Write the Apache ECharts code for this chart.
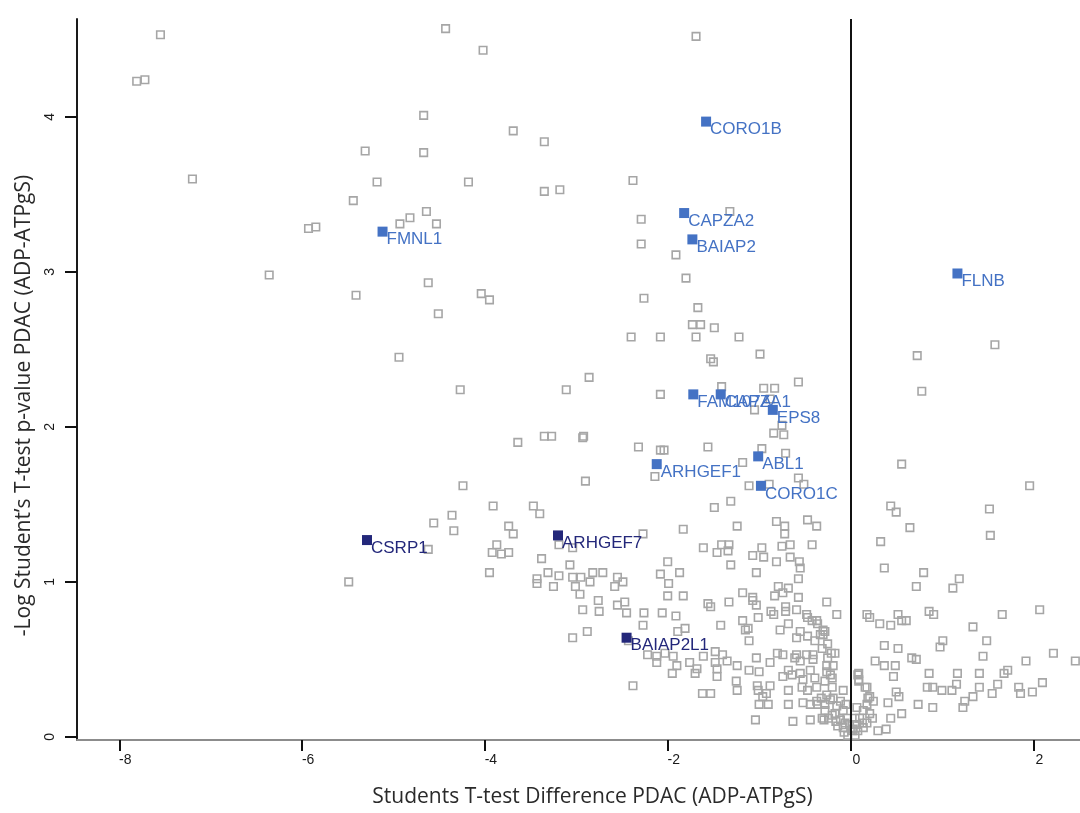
<!DOCTYPE html>
<html>
<head>
<meta charset="utf-8">
<script src="https://cdn.jsdelivr.net/npm/echarts@6/dist/echarts.min.js"></script>
<style>
html,body{margin:0;padding:0;background:#fff;}
#chart{width:1080px;height:813px;}
</style>
</head>
<body>
<div id="chart"></div>
<script>
// ---- Axis settings ----
const xTitle = "Students T-test Difference PDAC (ADP-ATPgS)";
const yTitle = "-Log Student\u2019s T-test p-value PDAC (ADP-ATPgS)";
const xTicks = [-8, -6, -4, -2, 0, 2];
const yTicks = [0, 1, 2, 3, 4];
const X_MIN = -8.463, X_MAX = 2.511;
const Y_MIN = -0.02, Y_MAX = 4.632;

// ---- Highlighted proteins ----
const blueNames = ['CORO1B','CAPZA2','BAIAP2','FMNL1','FLNB','FAM107A','CAPZA1','EPS8','ARHGEF1','ABL1','CORO1C'];
const blueX = [-1.58,-1.82,-1.73,-5.12,1.17,-1.72,-1.42,-0.85,-2.12,-1.01,-0.98];
const blueY = [3.97,3.38,3.21,3.26,2.99,2.21,2.21,2.11,1.76,1.81,1.62];
const navyNames = ['CSRP1','ARHGEF7','BAIAP2L1'];
const navyX = [-5.29,-3.20,-2.45];
const navyY = [1.27,1.30,0.64];

// ---- Other proteins (x = difference, y = -log p) ----
const grayTop = [
[-7.55,4.53],[-7.81,4.23],[-7.72,4.24],[-7.20,3.60],[-4.43,4.57],[-4.02,4.43],[-1.69,4.52],[-4.67,4.01],
[-5.31,3.78],[-4.67,3.77],[-3.69,3.91],[-3.35,3.84],[-5.18,3.58],[-4.18,3.58],[-3.35,3.52],[-3.18,3.53],
[-5.44,3.46],[-2.38,3.59],[-2.29,3.34],[-2.29,3.18],[-1.91,3.11],[-1.80,2.96],[-1.32,3.39],[-5.93,3.28],
[-5.85,3.29],[-4.93,3.31],[-4.82,3.35],[-4.64,3.39],[-4.53,3.31],[-6.36,2.98],[-5.41,2.85],[-4.62,2.93],
[-4.04,2.86],[-3.95,2.82],[-4.51,2.73],[-4.94,2.45],[-4.27,2.24],[-2.26,2.83],[-1.67,2.77],[-1.73,2.66],
[-1.64,2.66],[-1.49,2.64],[-2.40,2.58],[-2.08,2.58],[-1.69,2.58],[-1.22,2.58],[-1.53,2.44],[-1.50,2.42],
[-0.99,2.47],[-0.57,2.29],[-2.86,2.32],[-3.11,2.24],[-2.08,2.21],[-1.41,2.26],[-0.95,2.25],[-0.83,2.25],
[-1.05,2.11],[-0.88,2.18],[-0.75,2.01],[-0.84,1.96],[-0.73,1.95]
];
const grayMid = [
[-2.93,1.93],[-2.32,1.87],[-2.08,1.85],[-2.04,1.85],[-1.56,1.87],[-0.97,1.86],[-0.71,1.83],[-1.18,1.77],
[-1.11,1.62],[-0.89,1.63],[-0.57,1.67],[-0.51,1.63],[-1.49,1.48],[-1.31,1.52],[-0.81,1.39],[-0.72,1.36],
[-0.72,1.31],[-0.47,1.40],[-0.37,1.36],[-1.24,1.36],[-1.61,1.22],[-1.41,1.24],[-1.46,1.19],[-1.33,1.24],
[-1.34,1.20],[-0.97,1.22],[-1.07,1.17],[-0.95,1.16],[-0.75,1.23],[-0.66,1.24],[-0.42,1.24],[-1.31,1.11],
[-0.81,1.13],[-0.66,1.16],[-0.55,1.09],[-0.56,1.13],[-1.03,1.06],[-0.57,1.02],[-3.64,1.90],[-3.35,1.94],
[-3.27,1.94],[-2.92,1.94],[-2.14,1.68],[-2.90,1.65],[-4.24,1.62],[-3.91,1.49],[-3.47,1.49],[-3.40,1.44],
[-4.36,1.43],[-4.56,1.38],[-4.34,1.33],[-3.74,1.36],[-3.69,1.31],[-4.62,1.21],[-3.87,1.24],[-3.92,1.19],
[-3.82,1.18],[-3.74,1.19],[-3.95,1.06],[-5.49,1.00],[-3.38,1.15],[-3.19,1.24],[-3.04,1.22],[-3.07,1.11],
[-2.27,1.31],[-1.83,1.34],[-3.31,1.06],[-3.43,1.02],[-3.43,0.99],[-3.25,0.97],[-3.19,1.04],[-3.04,1.03],
[-2.95,1.03],[-3.01,0.97],[-2.85,1.00],[-2.82,1.06],[-2.71,1.06],[-2.55,1.03],[-2.58,0.97],[-2.49,1.00],
[-2.08,1.05],[-2.00,1.13],[-1.87,1.06],[-1.99,0.99]
];
const grayLow = [
[-2.96,0.92],[-2.76,0.88],[-2.47,0.87],[-2.55,0.85],[-2.00,0.91],[-1.83,0.91],[-1.56,0.86],[-2.93,0.82],
[-2.75,0.81],[-2.45,0.80],[-2.26,0.80],[-2.06,0.80],[-1.91,0.78],[-3.04,0.64],[-2.88,0.68],[-2.27,0.72],
[-1.89,0.68],[-1.81,0.70],[-2.43,0.62],[-2.22,0.53],[-2.12,0.52],[-2.12,0.48],[-2.03,0.54],[-1.94,0.52],
[-1.90,0.46],[-1.76,0.48],[-1.95,0.41],[-1.68,0.44],[-1.70,0.41],[-2.38,0.33],[-1.62,0.28],[-1.53,0.28],
[-0.79,0.97],[-0.74,0.93],[-0.68,0.96],[-0.57,0.90],[-1.18,0.93],[-1.53,0.84],[-1.33,0.87],[-1.07,0.88],
[-1.03,0.85],[-0.26,0.87],[-0.87,0.81],[-0.84,0.79],[-0.71,0.84],[-0.59,0.82],[-0.15,0.79],[-1.42,0.72],
[-1.18,0.75],[-1.12,0.70],[-1.01,0.77],[-0.77,0.69],[-0.68,0.73],[-0.47,0.77],[-0.37,0.75],[-0.28,0.68],
[-1.11,0.62],[-0.59,0.64],[-0.30,0.66],[-1.61,0.52],[-1.48,0.55],[-1.40,0.53],[-1.48,0.48],[-1.35,0.49],
[-1.24,0.46],[-1.03,0.51],[-0.88,0.48],[-0.74,0.53],[-0.59,0.53],[-0.55,0.49],[-0.41,0.53],[-0.17,0.54],
[-1.46,0.44],[-1.25,0.36],[-1.11,0.43],[-1.00,0.42],[-0.74,0.39],[-0.68,0.43],[-1.24,0.30],[-1.01,0.30],
[-0.92,0.28],[-0.68,0.30],[-1.00,0.21],[-0.90,0.21],[-0.68,0.21],[-0.52,0.22],[-0.37,0.23],[-1.04,0.11],
[-0.63,0.10],[-0.44,0.11],[-0.29,0.11],[-0.71,0.81],[-0.48,0.79],[-0.42,0.75],[-0.36,0.73],[-0.30,0.69],
[-1.15,0.69],[-0.55,0.68],[-0.47,0.65],[-0.39,0.62],[-0.33,0.66],[-0.80,0.54],[-0.61,0.51],[-0.48,0.53],
[-0.41,0.50],[-1.46,0.39],[-0.64,0.40],[-0.55,0.41],[-0.44,0.43],[-0.52,0.37],[-0.39,0.38],[-1.02,0.33],
[-0.88,0.33],[-0.96,0.26],[-0.53,0.32],[-0.47,0.30],[-0.37,0.32],[-0.08,0.30],[-0.44,0.21],[-0.36,0.21],
[-0.28,0.21],[-0.31,0.12],[-0.20,0.14],[-1.07,0.90],[-0.83,0.91]
];
const grayCluster = [
[-0.26,0.46],[-0.22,0.40],[-0.28,0.36],[-0.20,0.32],[-0.26,0.27],[-0.19,0.25],[-0.11,0.23],[-0.15,0.20],
[-0.08,0.17],[-0.17,0.15],[-0.04,0.12],[-0.11,0.11],[-0.01,0.08],[-0.08,0.06],[0.02,0.04],[-0.03,0.01],
[0.07,0.08],[0.10,0.12],[0.14,0.17],[0.18,0.21],[0.19,0.25],[0.07,0.19],[0.05,0.12],[0.03,0.05],
[0.08,0.40],[0.09,0.37],[0.16,0.32],[-0.19,0.46],[-0.25,0.51],[-0.20,0.38],[-0.26,0.42],[-0.22,0.24],
[-0.28,0.17],[-0.06,0.09],[-0.14,0.07],[0.13,0.09],[-0.05,0.21],[0.21,0.15],[0.24,0.12],[0.18,0.09],
[0.14,0.06],[0.08,0.04],[-0.07,0.03],[0.05,0.01],[-0.16,0.10],[-0.24,0.12],[-0.32,0.25],[-0.25,0.60],
[-0.31,0.57],[-0.21,0.54]
];
const grayRight = [
[0.73,2.46],[1.58,2.53],[0.78,2.23],[0.56,1.76],[1.96,1.62],[0.44,1.49],[0.50,1.45],[1.52,1.47],
[0.65,1.35],[1.53,1.30],[0.33,1.26],[0.37,1.09],[0.80,1.06],[1.19,1.02],[1.12,0.96],[0.72,0.97],
[0.18,0.79],[0.21,0.77],[0.32,0.73],[0.44,0.72],[0.52,0.79],[0.61,0.75],[0.56,0.75],[0.86,0.81],
[0.91,0.79],[1.34,0.71],[1.66,0.79],[2.07,0.82],[0.37,0.59],[0.52,0.57],[0.98,0.58],[1.01,0.62],
[1.49,0.62],[0.27,0.49],[0.37,0.46],[0.49,0.46],[0.72,0.50],[0.67,0.51],[1.45,0.52],[1.92,0.49],
[2.22,0.54],[2.46,0.49],[0.09,0.41],[0.09,0.36],[0.47,0.39],[0.86,0.41],[1.17,0.41],[1.41,0.41],
[1.68,0.41],[1.72,0.43],[0.18,0.32],[0.21,0.26],[0.53,0.26],[0.50,0.29],[0.84,0.32],[0.90,0.32],
[1.00,0.30],[1.11,0.30],[1.16,0.34],[1.41,0.32],[1.55,0.28],[1.61,0.34],[1.84,0.32],[1.86,0.28],
[1.99,0.29],[2.10,0.35],[1.34,0.26],[1.25,0.23],[0.25,0.23],[0.41,0.22],[0.74,0.21],[0.90,0.19],
[1.23,0.19],[0.44,0.12],[0.56,0.15],[0.30,0.04],[0.39,0.05]
];

const grayAll = grayTop.concat(grayMid, grayLow, grayCluster, grayRight);
const blueData = blueNames.map((n, i) => ({ name: n, value: [blueX[i], blueY[i]] }));
const navyData = navyNames.map((n, i) => ({ name: n, value: [navyX[i], navyY[i]] }));

const labelFont = 'Liberation Sans, Arial, sans-serif';
const titleFont = 'Open Sans, Noto Sans, sans-serif';

function labeledSeries(data, color) {
  return {
    type: 'scatter',
    data: data,
    symbol: 'rect',
    symbolSize: 10,
    itemStyle: { color: color, opacity: 1 },
    label: {
      show: true,
      formatter: '{b}',
      position: 'right',
      distance: 0,
      offset: [-1, 8],
      color: color,
      fontSize: 17,
      fontFamily: labelFont
    },
    emphasis: { disabled: true },
    z: 5
  };
}

const chart = echarts.init(document.getElementById('chart'), null, { renderer: 'canvas' });
chart.setOption({
  animation: false,
  backgroundColor: '#ffffff',
  grid: { left: 77, right: 0, top: 19, bottom: 71, containLabel: false },
  xAxis: {
    type: 'value',
    min: X_MIN,
    max: X_MAX,
    splitLine: { show: false },
    axisLine: { show: true, onZero: false, lineStyle: { color: '#8c8c8c', width: 2 } },
    axisTick: { show: true, customValues: xTicks, length: 11, lineStyle: { color: '#111', width: 2 } },
    axisLabel: {
      show: true, customValues: xTicks, margin: 13, fontSize: 14, color: '#1a1a1a',
      fontFamily: labelFont, padding: [0, 0, 0, 12]
    },
    name: xTitle,
    nameLocation: 'middle',
    nameGap: 47,
    nameTextStyle: { fontSize: 21, color: '#2a2a2a', fontFamily: titleFont, padding: [0, 0, 0, 28] }
  },
  yAxis: {
    type: 'value',
    min: Y_MIN,
    max: Y_MAX,
    splitLine: { show: false },
    axisLine: { show: true, onZero: false, lineStyle: { color: '#1a1a1a', width: 2 } },
    axisTick: { show: true, customValues: yTicks, length: 12, lineStyle: { color: '#111', width: 2 } },
    axisLabel: {
      show: true, customValues: yTicks, rotate: 90, margin: 20, fontSize: 14, color: '#1a1a1a',
      fontFamily: labelFont
    },
    name: yTitle,
    nameLocation: 'middle',
    nameGap: 42,
    nameRotate: 90,
    nameTextStyle: { fontSize: 21, color: '#2a2a2a', fontFamily: titleFont, padding: [0, 52, 0, 0] }
  },
  series: [
    {
      type: 'scatter',
      data: grayAll,
      symbol: 'rect',
      symbolSize: 7.5,
      itemStyle: { color: 'rgba(255,255,255,0)', borderColor: '#a6a6a6', borderWidth: 1.6, opacity: 1 },
      emphasis: { disabled: true },
      markLine: {
        silent: true,
        symbol: ['none', 'none'],
        label: { show: false },
        lineStyle: { color: '#111', width: 2, type: 'solid' },
        data: [{ xAxis: 0 }]
      },
      z: 2
    },
    labeledSeries(blueData, '#4472c4'),
    labeledSeries(navyData, '#23277a')
  ]
});
</script>
</body>
</html>
